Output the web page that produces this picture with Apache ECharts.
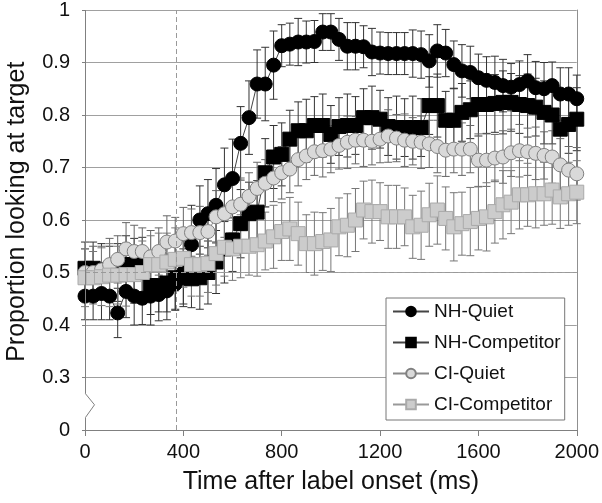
<!DOCTYPE html>
<html><head><meta charset="utf-8">
<script src="https://cdn.jsdelivr.net/npm/echarts@6/dist/echarts.min.js"></script>
<style>html,body{margin:0;padding:0;background:#fff}#c{width:602px;height:503px}</style>
</head><body><div id="c"></div>
<script>
const timeMs = [0,33,67,100,133,167,200,233,267,300,333,367,400,433,467,500,533,567,600,633,667,700,733,767,800,833,867,900,933,967,1000,1033,1067,1100,1133,1167,1200,1233,1267,1300,1333,1367,1400,1433,1467,1500,1533,1567,1600,1633,1667,1700,1733,1767,1800,1833,1867,1900,1933,1967,2000];

const nhQuiet = [0.455,0.455,0.46,0.455,0.423,0.464,0.455,0.451,0.455,0.458,0.465,0.478,0.50,0.553,0.600,0.612,0.628,0.667,0.679,0.746,0.795,0.859,0.859,0.895,0.932,0.935,0.939,0.939,0.940,0.958,0.958,0.944,0.931,0.931,0.930,0.920,0.918,0.917,0.917,0.917,0.917,0.915,0.903,0.922,0.918,0.896,0.884,0.881,0.871,0.866,0.862,0.856,0.853,0.858,0.865,0.852,0.850,0.856,0.840,0.840,0.831];
const nhQuietErr = [0.045,0.045,0.05,0.045,0.047,0.05,0.055,0.05,0.055,0.05,0.055,0.05,0.06,0.075,0.065,0.065,0.07,0.07,0.075,0.07,0.07,0.065,0.07,0.065,0.04,0.04,0.045,0.04,0.04,0.035,0.035,0.04,0.045,0.045,0.04,0.045,0.04,0.04,0.04,0.04,0.045,0.045,0.05,0.05,0.045,0.045,0.05,0.05,0.045,0.045,0.05,0.05,0.045,0.045,0.05,0.05,0.05,0.045,0.05,0.05,0.045];

const nhCompetitor = [0.508,0.508,0.505,0.50,0.50,0.515,0.515,0.512,0.475,0.475,0.48,0.49,0.49,0.488,0.49,0.50,0.52,0.545,0.562,0.593,0.612,0.615,0.69,0.72,0.725,0.754,0.77,0.77,0.78,0.78,0.763,0.778,0.78,0.78,0.795,0.795,0.792,0.778,0.776,0.776,0.776,0.776,0.818,0.818,0.79,0.79,0.805,0.81,0.82,0.82,0.822,0.824,0.824,0.82,0.818,0.815,0.805,0.80,0.773,0.782,0.792];
const nhCompetitorErr = [0.05,0.05,0.05,0.05,0.055,0.055,0.05,0.055,0.055,0.05,0.055,0.06,0.055,0.055,0.06,0.06,0.06,0.065,0.06,0.065,0.06,0.06,0.065,0.06,0.06,0.055,0.055,0.06,0.055,0.06,0.055,0.055,0.06,0.055,0.055,0.06,0.055,0.055,0.06,0.055,0.06,0.055,0.055,0.06,0.055,0.06,0.055,0.055,0.06,0.055,0.055,0.06,0.055,0.055,0.06,0.055,0.06,0.055,0.06,0.055,0.06];

const ciQuiet = [0.50,0.50,0.505,0.515,0.525,0.545,0.54,0.54,0.53,0.54,0.558,0.56,0.574,0.576,0.576,0.578,0.606,0.612,0.625,0.63,0.645,0.66,0.67,0.68,0.69,0.697,0.715,0.722,0.73,0.732,0.735,0.742,0.748,0.752,0.752,0.75,0.754,0.76,0.756,0.752,0.75,0.748,0.745,0.74,0.733,0.735,0.735,0.735,0.714,0.714,0.718,0.72,0.728,0.732,0.73,0.727,0.723,0.72,0.705,0.695,0.688];
const ciQuietErr = [0.045,0.05,0.045,0.05,0.045,0.05,0.05,0.045,0.05,0.045,0.05,0.045,0.05,0.045,0.05,0.045,0.05,0.045,0.05,0.05,0.045,0.05,0.045,0.045,0.05,0.045,0.05,0.045,0.045,0.05,0.045,0.045,0.05,0.045,0.05,0.045,0.045,0.05,0.045,0.05,0.045,0.05,0.045,0.05,0.05,0.045,0.05,0.045,0.05,0.05,0.045,0.05,0.045,0.05,0.045,0.05,0.045,0.05,0.05,0.045,0.05];

const ciCompetitor = [0.49,0.49,0.492,0.495,0.495,0.496,0.496,0.50,0.515,0.515,0.52,0.525,0.527,0.515,0.515,0.517,0.536,0.548,0.545,0.55,0.55,0.553,0.56,0.568,0.578,0.583,0.574,0.555,0.555,0.559,0.562,0.587,0.59,0.60,0.619,0.616,0.616,0.606,0.606,0.606,0.587,0.59,0.61,0.619,0.603,0.587,0.593,0.597,0.603,0.606,0.616,0.629,0.634,0.648,0.648,0.65,0.65,0.657,0.644,0.65,0.653];
const ciCompetitorErr = [0.055,0.05,0.055,0.06,0.055,0.06,0.055,0.06,0.055,0.06,0.055,0.06,0.055,0.06,0.06,0.055,0.06,0.055,0.06,0.06,0.055,0.06,0.055,0.06,0.055,0.06,0.06,0.055,0.06,0.055,0.06,0.055,0.06,0.06,0.055,0.06,0.055,0.06,0.06,0.055,0.06,0.065,0.06,0.065,0.06,0.065,0.06,0.065,0.06,0.065,0.06,0.065,0.06,0.065,0.06,0.065,0.06,0.065,0.06,0.06,0.06];

const seriesNames = ['NH-Quiet','NH-Competitor','CI-Quiet','CI-Competitor'];
const xTickValues = [0,400,800,1200,1600,2000];
const yTickValues = [0.2,0.3,0.4,0.5,0.6,0.7,0.8,0.9,1.0];
const yTickLabels = ['0','0.3','0.4','0.5','0.6','0.7','0.8','0.9','1'];
const labelOnsetLine = 370;
const chanceLevel = 0.5;

const FONT = '"Liberation Sans", Arial, sans-serif';
const chart = echarts.init(document.getElementById('c'), null, {renderer:'canvas'});

function errSeries(name, vals, errs, color) {
  return {
    type: 'custom', name: name + ' SE', silent: true,
    data: vals.map((v, i) => [timeMs[i], v - errs[i], v + errs[i]]),
    encode: {x: 0, y: [1, 2]},
    renderItem: function (params, api) {
      const x = api.value(0);
      const lo = api.coord([x, api.value(1)]);
      const hi = api.coord([x, api.value(2)]);
      const w = 4;
      const st = {stroke: color, lineWidth: 1};
      return {type: 'group', children: [
        {type: 'line', shape: {x1: lo[0], y1: lo[1], x2: hi[0], y2: hi[1]}, style: st},
        {type: 'line', shape: {x1: lo[0] - w, y1: lo[1], x2: lo[0] + w, y2: lo[1]}, style: st},
        {type: 'line', shape: {x1: hi[0] - w, y1: hi[1], x2: hi[0] + w, y2: hi[1]}, style: st}
      ]};
    }
  };
}
function lineSeries(name, vals, symbol, fill, border, lineColor) {
  return {
    type: 'line', name: name, symbol: symbol, symbolSize: 14,
    data: vals.map((v, i) => [timeMs[i], v]),
    lineStyle: {color: lineColor, width: 1},
    itemStyle: {color: fill, borderColor: border, borderWidth: 1, opacity: 1},
    emphasis: {disabled: true}, animation: false
  };
}

const option = {
  animation: false,
  backgroundColor: '#fff',
  grid: {left: 85, right: 22, top: 7, bottom: 73},
  xAxis: {
    type: 'value', min: 0, max: 2000, interval: 400,
    name: 'Time after label onset (ms)', nameLocation: 'middle', nameGap: 40,
    nameTextStyle: {fontFamily: FONT, fontSize: 25, color: '#111'},
    axisLine: {show: true, lineStyle: {color: '#808080', width: 1}},
    axisTick: {show: true, length: 6, lineStyle: {color: '#808080'}},
    axisLabel: {fontFamily: FONT, fontSize: 20, color: '#111', margin: 12,
      formatter: v => xTickValues.indexOf(v) >= 0 ? String(v) : ''},
    splitLine: {show: false}
  },
  yAxis: [{
    type: 'value', min: 0.2, max: 1.0, interval: 0.1,
    axisLine: {show: false},
    axisTick: {show: true, inside: false, length: 3, lineStyle: {color: '#808080'}},
    axisLabel: {fontFamily: FONT, fontSize: 20, color: '#111', margin: 15,
      formatter: function (v) {
        const k = yTickValues.findIndex(t => Math.abs(t - v) < 1e-6);
        return k >= 0 ? yTickLabels[k] : '';
      }},
    splitLine: {show: true, lineStyle: {color: '#a0a0a0', width: 1}}
  }, {
    type: 'value', min: 0.2, max: 1.0, interval: 0.1, position: 'right',
    axisLine: {show: true, lineStyle: {color: '#909090', width: 1}},
    axisTick: {show: false}, axisLabel: {show: false}, splitLine: {show: false}
  }],
  legend: {
    data: seriesNames, orient: 'vertical', left: 386, top: 298,
    padding: [4, 4, 6, 6], itemWidth: 36, itemHeight: 12, itemGap: 12,
    backgroundColor: '#fff', borderColor: '#777', borderWidth: 1,
    textStyle: {fontFamily: FONT, fontSize: 19, color: '#111'},
    selectedMode: false
  },
  series: [
    {type: 'line', name: 'refs', data: [], silent: true,
      markLine: {silent: true, symbol: ['none', 'none'], label: {show: false},
        lineStyle: {type: [5, 3], color: '#999', width: 1},
        data: [{xAxis: labelOnsetLine}, {yAxis: chanceLevel}]}},
    errSeries('NH-Quiet', nhQuiet, nhQuietErr, '#333'),
    lineSeries('NH-Quiet', nhQuiet, 'circle', '#000', '#000', '#444'),
    errSeries('NH-Competitor', nhCompetitor, nhCompetitorErr, '#333'),
    lineSeries('NH-Competitor', nhCompetitor, 'rect', '#000', '#000', '#444'),
    errSeries('CI-Quiet', ciQuiet, ciQuietErr, '#666'),
    lineSeries('CI-Quiet', ciQuiet, 'circle', '#d9d9d9', '#808080', '#888'),
    errSeries('CI-Competitor', ciCompetitor, ciCompetitorErr, '#777'),
    lineSeries('CI-Competitor', ciCompetitor, 'rect', '#cccccc', '#aaaaaa', '#999')
  ]
};
chart.setOption(option);

// broken left axis and rotated y title
const pTop = chart.convertToPixel({gridIndex: 0}, [0, 1.0]);
const p3 = chart.convertToPixel({gridIndex: 0}, [0, 0.3]);
const p2 = chart.convertToPixel({gridIndex: 0}, [0, 0.2]);
const step = p2[1] - p3[1];
const x0 = Math.round(pTop[0]) + 0.5;
chart.setOption({
  graphic: [
    {type: 'polyline', z: 10, silent: true,
      shape: {points: [[x0, pTop[1]], [x0, p3[1] + 0.31 * step], [x0 + 9, p3[1] + 0.52 * step], [x0, p3[1] + 0.76 * step], [x0, p2[1]]]},
      style: {stroke: '#808080', lineWidth: 1, fill: null}},
    {type: 'text', z: 10, silent: true, x: 17, y: (pTop[1] + p3[1]) / 2 + 18, rotation: Math.PI / 2,
      style: {text: 'Proportion looking at target', font: '25px ' + FONT, fill: '#111',
        textAlign: 'center', textVerticalAlign: 'middle'}}
  ]
});
</script></body></html>
